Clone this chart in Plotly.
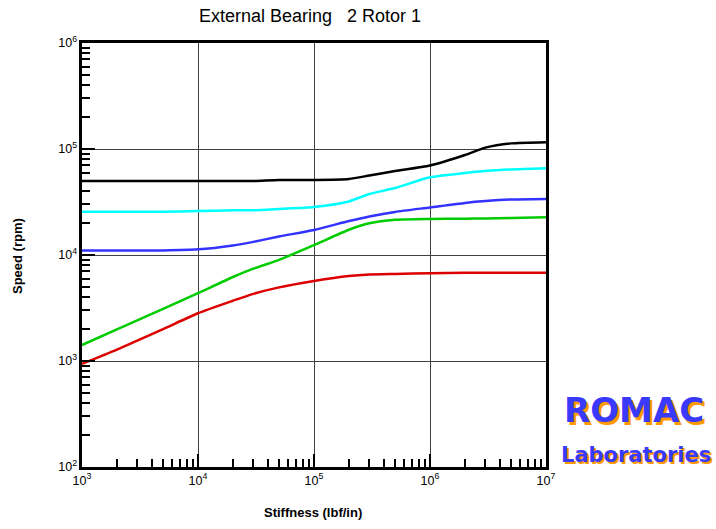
import plotly.graph_objects as go

# Bearing stiffness (lbf/in) sample points
stiffness = [1e3, 2e3, 5e3, 1e4, 2e4, 3e4, 5e4, 1e5, 2e5, 3e5, 5e5, 1e6, 2e6, 3e6, 5e6, 1e7]

# Critical speeds (rpm) for each mode
mode1 = [938, 1280, 2000, 2820, 3700, 4300, 4950, 5690, 6340, 6550, 6630, 6720, 6810, 6810, 6810, 6810]
mode2 = [1416, 1985, 3100, 4360, 6200, 7430, 9000, 12400, 17300, 19900, 21500, 21900, 22000, 22100, 22300, 22700]
mode3 = [11000, 11000, 11050, 11300, 12300, 13300, 14960, 17200, 20900, 23100, 25500, 28100, 31000, 32300, 33400, 33800]
mode4 = [25600, 25600, 25600, 26000, 26400, 26400, 27200, 28400, 32000, 37600, 42800, 54100, 59400, 62000, 64100, 65800]
mode5 = [49900, 49900, 49900, 49900, 49900, 49900, 51000, 51000, 52100, 56200, 62000, 69800, 87700, 103000, 113000, 116000]

series = [
    (mode1, "#dd0000"),
    (mode2, "#00cc00"),
    (mode3, "#3333ff"),
    (mode4, "#00ffff"),
    (mode5, "#000000"),
]

fig = go.Figure()
for vals, color in series:
    fig.add_trace(go.Scatter(x=stiffness, y=vals, mode="lines",
                             line=dict(color=color, width=2.5, shape="spline", smoothing=0.6),
                             showlegend=False, hoverinfo="skip"))

axis_common = dict(
    type="log",
    dtick=1,
    showline=True, linecolor="black", linewidth=3, mirror=True,
    showgrid=True, gridcolor="#404040", gridwidth=1.2,
    ticks="inside", ticklen=13, tickwidth=2, tickcolor="black",
    minor=dict(ticks="inside", ticklen=8, tickwidth=1.5, tickcolor="black",
               dtick="D1", showgrid=False),
    exponentformat="power",
    tickfont=dict(family="Liberation Sans, Arial", size=10, color="black"),
    zeroline=False,
)

fig.update_xaxes(range=[3, 7], **axis_common)
fig.update_yaxes(range=[2, 6], **axis_common)

L, R, T, B = 82, 546, 43, 467
W, H = 716, 529

def px(x):
    return (x - L) / (R - L)

def py(y):
    return (B - y) / (B - T)

annotations = [
    dict(text="<b>Stiffness (lbf/in)</b>", x=px(313), y=py(512), xref="paper", yref="paper",
         showarrow=False, font=dict(family="Liberation Sans, Arial", size=13, color="black"),
         xanchor="center", yanchor="middle"),
    dict(text="<b>Speed (rpm)</b>", x=px(17), y=py(256), xref="paper", yref="paper",
         showarrow=False, textangle=-90,
         font=dict(family="Liberation Sans, Arial", size=13, color="black"),
         xanchor="center", yanchor="middle"),
    # Lab logo: blue lettering with an orange drop shadow
    dict(text="<b>ROMAC</b>", x=px(634), y=py(410), xref="paper", yref="paper",
         showarrow=False,
         font=dict(family="DejaVu Sans", size=34, color="#3a3aff",
                   shadow="2.5px 2.5px 0px #ff9900"),
         xanchor="center", yanchor="middle"),
    dict(text="<b>Laboratories</b>", x=px(636), y=py(455), xref="paper", yref="paper",
         showarrow=False,
         font=dict(family="DejaVu Sans", size=21, color="#3a3aff",
                   shadow="2px 2px 0px #ff9900"),
         xanchor="center", yanchor="middle"),
]

fig.update_layout(
    width=W, height=H,
    margin=dict(l=L, r=W - R, t=T, b=H - B, autoexpand=False),
    paper_bgcolor="white", plot_bgcolor="white",
    title=dict(text="External Bearing\u00a0\u00a0\u00a02 Rotor 1", x=px(310), xref="paper",
               xanchor="center", y=1 - 16 / H, yref="container", yanchor="middle",
               font=dict(family="Liberation Sans, Arial", size=18, color="black")),
    annotations=annotations,
)

fig.write_html("out.html")
